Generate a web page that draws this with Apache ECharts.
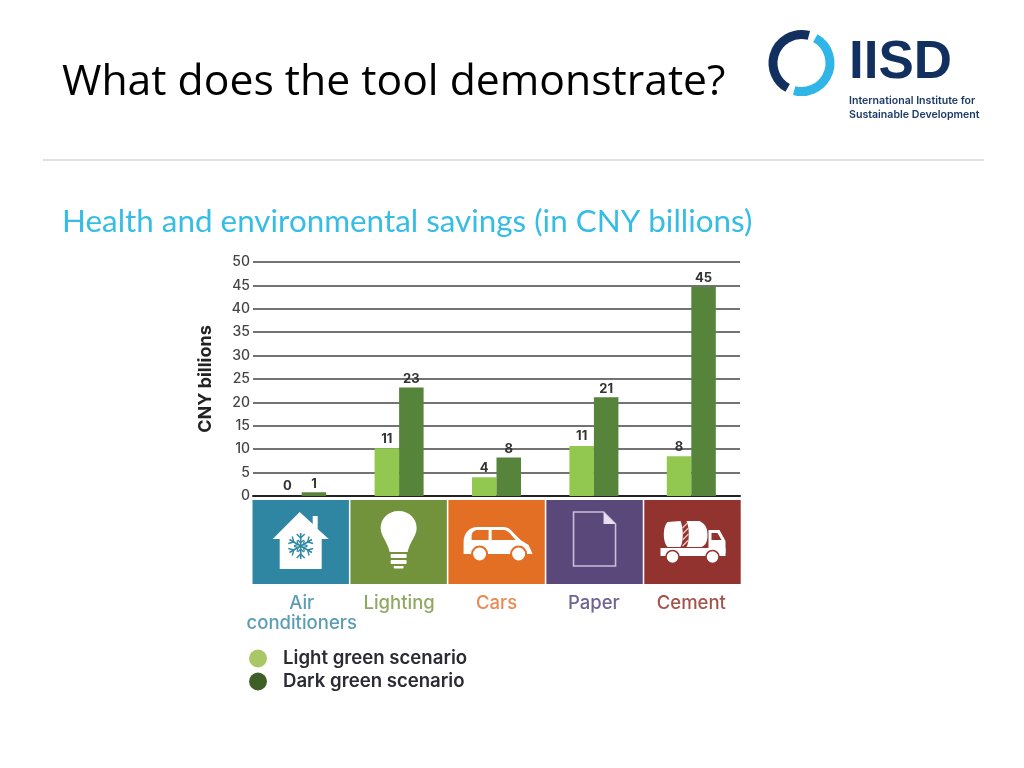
<!DOCTYPE html>
<html><head><meta charset="utf-8">
<style>html,body{margin:0;padding:0;background:#fff}#c{width:1024px;height:768px}</style>
<script src="https://cdn.jsdelivr.net/npm/echarts@6/dist/echarts.min.js"></script>
</head><body><div id="c"></div>
<script>
const categories = ['Air\nconditioners', 'Lighting', 'Cars', 'Paper', 'Cement'];
const lightValues = [0, 10.2, 4, 10.7, 8.5];
const darkValues = [0.8, 23.2, 8.2, 21.1, 44.7];
const lightLabels = ['0', '11', '4', '11', '8'];
const darkLabels = ['1', '23', '8', '21', '45'];
const categoryColors = ['#5b9db5', '#90a862', '#e88b52', '#6f6396', '#a4534c'];
const tileColors = ['#2f86a3', '#72923c', '#e36f25', '#5b487a', '#93332f'];
const chartFont = 'Inter, "Open Sans", sans-serif';

function iconFor(i, tile) {
  const white = '#fff';
  if (i === 0) {
    const flake = [];
    for (let a = 0; a < 6; a++) {
      flake.push({ type: 'group', rotation: a * Math.PI / 3, children: [
        { type: 'line', shape: { x1: 0, y1: 0, x2: 0, y2: -13 }, style: { stroke: tile, lineWidth: 1.6 } },
        { type: 'polyline', shape: { points: [[-4, -12], [0, -8], [4, -12]] }, style: { stroke: tile, fill: null, lineWidth: 1.4 } },
        { type: 'polyline', shape: { points: [[-3, -6], [0, -3], [3, -6]] }, style: { stroke: tile, fill: null, lineWidth: 1.2 } }
      ] });
    }
    return [
      { type: 'path', shape: { pathData: 'M-2,-30 L11,-18 L11,-26 L16,-26 L16,-13 L27,-3 L20,-3 L20,27 L-22,27 L-22,-3 L-29,-3 Z' }, style: { fill: white } },
      { type: 'group', x: -1, y: 4, children: flake }
    ];
  }
  if (i === 1) {
    return [
      { type: 'path', shape: { pathData: 'M-1,-31 C10,-31 17,-23 17,-14 C17,-6 10,0 8,10 L-10,10 C-12,0 -19,-6 -19,-14 C-19,-23 -12,-31 -1,-31 Z' }, style: { fill: white } },
      { type: 'rect', shape: { x: -9, y: 12, width: 16, height: 4, r: 1 }, style: { fill: white } },
      { type: 'rect', shape: { x: -9, y: 18, width: 16, height: 4, r: 1 }, style: { fill: white } },
      { type: 'rect', shape: { x: -6, y: 24, width: 10, height: 2.5, r: 1 }, style: { fill: white } }
    ];
  }
  if (i === 2) {
    return [
      { type: 'path', shape: { pathData: 'M-34,12 L-34,0 C-34,-9 -28,-15 -20,-15 L6,-15 C10,-15 13,-13 16,-9 L23,-2 L31,3 L35,12 Z' }, style: { fill: white } },
      { type: 'path', shape: { pathData: 'M-26,-2 L-26,-6 C-26,-10 -23,-12 -20,-12 L-9,-12 L-9,-2 Z' }, style: { fill: tile } },
      { type: 'path', shape: { pathData: 'M-6,-12 L6,-12 C8,-12 10,-11 12,-9 L18,-2 L-6,-2 Z' }, style: { fill: tile } },
      { type: 'circle', shape: { cx: -18, cy: 12, r: 7.5 }, style: { fill: white, stroke: tile, lineWidth: 2 } },
      { type: 'circle', shape: { cx: 21, cy: 12, r: 7.5 }, style: { fill: white, stroke: tile, lineWidth: 2 } }
    ];
  }
  if (i === 3) {
    return [
      { type: 'path', shape: { pathData: 'M-22,-30 L8,-30 L20,-18 L20,24 L-22,24 Z' }, style: { fill: null, stroke: '#c9bdd9', lineWidth: 1.6 } },
      { type: 'path', shape: { pathData: 'M8,-30 L20,-18 L8,-18 Z' }, style: { fill: '#e6e0ee' } }
    ];
  }
  return [
    { type: 'path', shape: { pathData: 'M-26,-20 L-13,-21 C-10,-15 -10,0 -13,5 L-26,5 C-31,0 -31,-15 -26,-20 Z' }, style: { fill: white } },
    { type: 'path', shape: { pathData: 'M-7,-21 L6,-21 C12,-18 14,-14 14,-7 C14,0 12,3 8,5 L-7,5 C-4,0 -4,-15 -7,-21 Z' }, style: { fill: white } },
    { type: 'path', shape: { pathData: 'M-11,-14 L-6,-19 M-11,-8 L-5,-14 M-11,-2 L-5,-8 M-11,4 L-5,-2' }, style: { stroke: '#e0c8c6', fill: null, lineWidth: 1.4 } },
    { type: 'path', shape: { pathData: 'M15,-12 L26,-12 L32,-1 L32,11 L15,11 Z' }, style: { fill: white } },
    { type: 'path', shape: { pathData: 'M18,-9 L24,-9 L28,-2 L18,-2 Z' }, style: { fill: tile } },
    { type: 'rect', shape: { x: -33, y: 6, width: 65, height: 8 }, style: { fill: white } },
    { type: 'circle', shape: { cx: -21, cy: 15, r: 6.5 }, style: { fill: white, stroke: tile, lineWidth: 1.5 } },
    { type: 'circle', shape: { cx: 19, cy: 15, r: 6.5 }, style: { fill: white, stroke: tile, lineWidth: 1.5 } }
  ];
}

function renderTile(params, api) {
  const i = api.value(0);
  const base = api.coord([i, 0]);
  const band = api.size([1, 0])[0];
  const tile = tileColors[i];
  const drift = i * 0.55;
  return {
    type: 'group',
    children: [
      { type: 'rect', shape: { x: base[0] - band / 2 - 0.5 + drift, y: base[1] + 4, width: band - 1, height: 84 }, style: { fill: tile } },
      { type: 'group', x: base[0] + drift, y: base[1] + 46, children: iconFor(i, tile) }
    ]
  };
}

const rad = Math.PI / 180;
const chart = echarts.init(document.getElementById('c'));
chart.setOption({
  animation: false,
  backgroundColor: '#fff',
  textStyle: { fontFamily: chartFont },
  title: [
    { text: 'What does the tool demonstrate?', left: 62, top: 61, padding: 0, textStyle: { fontFamily: '"Open Sans"', fontSize: 42.7, fontWeight: 400, color: '#000' } },
    { text: 'Health and environmental savings (in CNY billions)', left: 62, top: 206, padding: 0, textStyle: { fontFamily: 'Lato', fontSize: 31.4, fontWeight: 400, color: '#35bde6' } }
  ],
  grid: { left: 253, top: 262, width: 487, height: 234 },
  legend: {
    orient: 'vertical', left: 244, top: 644, itemWidth: 20, itemHeight: 18, itemGap: 4, icon: 'circle',
    textStyle: { fontFamily: chartFont, fontSize: 18.6, fontWeight: 600, color: '#2b2b33', padding: [0, 0, 0, 10] },
    data: [
      { name: 'Light green scenario', itemStyle: { color: '#a9c765' } },
      { name: 'Dark green scenario', itemStyle: { color: '#3e6028' } }
    ]
  },
  xAxis: {
    type: 'category',
    data: categories.map((c, i) => ({ value: c, textStyle: { color: categoryColors[i] } })),
    axisLine: { lineStyle: { color: '#222', width: 2 } },
    axisTick: { show: false },
    axisLabel: { margin: 97, fontSize: 18.5, fontWeight: 500, lineHeight: 20, interval: 0, fontFamily: chartFont, verticalAlign: 'top' }
  },
  yAxis: {
    type: 'value', min: 0, max: 50, interval: 5,
    name: 'CNY billions', nameLocation: 'middle', nameGap: 38, nameRotate: 90,
    nameTextStyle: { fontFamily: chartFont, fontSize: 18, fontWeight: 700, color: '#222' },
    axisLine: { show: false }, axisTick: { show: false },
    axisLabel: { margin: 3, fontSize: 14, fontWeight: 500, color: '#444', fontFamily: chartFont },
    splitLine: { lineStyle: { color: '#444', width: 1.6 } }
  },
  series: [
    {
      name: 'Light green scenario', type: 'bar', barWidth: 24.5, barGap: 0,
      itemStyle: { color: '#92c850' },
      data: lightValues.map((v, i) => ({ value: v, label: i === 0 ? { offset: [-2, 0] } : undefined })),
      label: { show: true, position: 'top', distance: 3, fontFamily: chartFont, fontSize: 13, fontWeight: 700, color: '#333',
        formatter: p => lightLabels[p.dataIndex] }
    },
    {
      name: 'Dark green scenario', type: 'bar', barWidth: 24.5, barGap: 0,
      itemStyle: { color: '#56843a' },
      data: darkValues,
      label: { show: true, position: 'top', distance: 2, fontFamily: chartFont, fontSize: 13, fontWeight: 700, color: '#333',
        formatter: p => darkLabels[p.dataIndex] }
    },
    {
      type: 'custom', renderItem: renderTile, silent: true, clip: false, z: 1,
      encode: { x: 0, y: 1 }, data: categories.map((c, i) => [i, 0])
    }
  ],
  graphic: [
    { type: 'line', shape: { x1: 43, y1: 160, x2: 984, y2: 160 }, style: { stroke: '#c4c4c4', lineWidth: 1.2 } },
    { type: 'arc', shape: { cx: 801.5, cy: 63, r: 28.5, startAngle: -75 * rad, endAngle: 119 * rad, clockwise: false }, style: { stroke: '#12305f', fill: null, lineWidth: 9 } },
    { type: 'arc', shape: { cx: 801.5, cy: 63, r: 28.5, startAngle: -61 * rad, endAngle: 105 * rad, clockwise: true }, style: { stroke: '#2fb6e6', fill: null, lineWidth: 9 } },
    { type: 'text', x: 849, y: 63, style: { text: 'IISD', fontFamily: '"Liberation Sans"', fontWeight: 700, fontSize: 53, fill: '#12305f', textVerticalAlign: 'middle' } },
    { type: 'text', x: 849, y: 101, style: { text: 'International Institute for', fontFamily: chartFont, fontWeight: 600, fontSize: 10.6, fill: '#1c3a68', textVerticalAlign: 'middle' } },
    { type: 'text', x: 849, y: 115, style: { text: 'Sustainable Development', fontFamily: chartFont, fontWeight: 600, fontSize: 10.6, fill: '#1c3a68', textVerticalAlign: 'middle' } }
  ]
});
</script></body></html>
